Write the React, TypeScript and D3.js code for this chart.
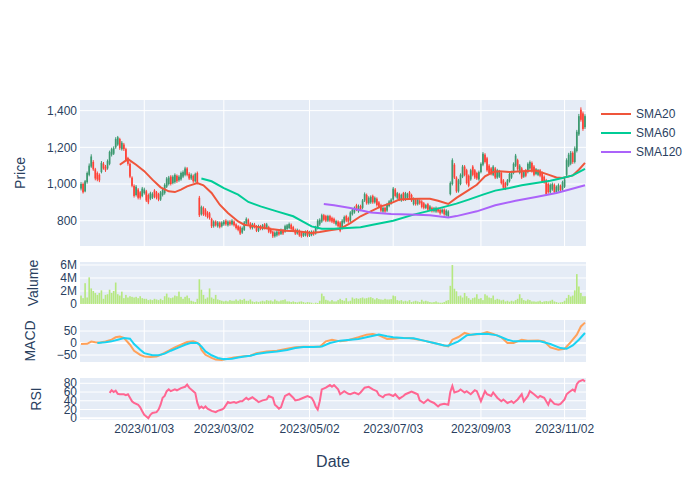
import React from "react";
import * as d3 from "d3";

// daily candles (KRW)
const opens = [
  975, 1000, 960, 1010, 1050, 1095, 1120, 1080, 1060, 1050,
  1065, 1110, 1095, 1085, 1110, 1160, 1165, 1200, 1215, 1245,
  1190, 1215, 1190, 1140, 1110, 1035, 990, 940, 970, 955,
  935, 950, 960, 940, 920, 925, 965, 955, 945, 915,
  940, 950, 985, 1000, 1040, 1005, 1010, 1045, 1020, 1025,
  1040, 1050, 1085, 1055, 1030, 1045, 1015, 1060, 925, 835,
  870, 860, 845, 840, 810, 770, 795, 770, 790, 770,
  780, 800, 775, 795, 780, 795, 780, 770, 765, 735,
  750, 785, 805, 785, 760, 780, 770, 745, 770, 755,
  780, 760, 765, 755, 740, 715, 720, 740, 728, 748,
  740, 755, 760, 778, 765, 750, 730, 745, 735, 718,
  720, 742, 718, 722, 740, 730, 760, 780, 795, 830,
  825, 800, 825, 815, 810, 780, 795, 790, 760, 790,
  825, 815, 800, 835, 845, 885, 850, 880, 870, 910,
  940, 895, 900, 935, 900, 920, 900, 885, 850, 870,
  855, 880, 895, 915, 970, 925, 945, 910, 950, 915,
  925, 955, 940, 890, 915, 890, 910, 905, 895, 870,
  890, 860, 870, 852, 850, 865, 860, 845, 860, 830,
  825, 945, 1000, 1105, 1035, 960, 1000, 1040, 1095, 1075,
  1045, 1025, 1095, 1075, 1060, 1025, 1065, 1105, 1160, 1140,
  1100, 1085, 1050, 1085, 1035, 1040, 1060, 1020, 1005, 995,
  1015, 1035, 1060, 1100, 1130, 1060, 1085, 1040, 1075, 1065,
  1085, 1115, 1095, 1055, 1050, 1075, 1060, 1040, 1020, 1000,
  955, 970, 995, 955, 965, 990, 970, 985, 1050, 1100,
  1110, 1170, 1120, 1180, 1270, 1405, 1385, 1310,
];
const highs = [
  1010, 1008, 1022, 1068, 1112, 1162, 1130, 1088, 1068, 1058,
  1125, 1120, 1104, 1134, 1182, 1198, 1205, 1255, 1262, 1252,
  1234, 1224, 1198, 1148, 1118, 1042, 998, 994, 978, 962,
  984, 980, 968, 948, 958, 955, 972, 962, 952, 962,
  978, 1004, 1038, 1044, 1048, 1048, 1058, 1052, 1048, 1068,
  1074, 1094, 1092, 1064, 1058, 1052, 1062, 1068, 935, 882,
  878, 868, 852, 848, 816, 802, 802, 798, 796, 797,
  804, 808, 802, 803, 808, 802, 786, 776, 772, 768,
  798, 818, 812, 792, 788, 788, 776, 778, 777, 782,
  787, 788, 772, 762, 746, 742, 748, 747, 757, 755,
  778, 782, 790, 785, 772, 757, 757, 752, 742, 742,
  747, 749, 745, 747, 747, 772, 808, 813, 838, 837,
  832, 832, 832, 822, 817, 805, 802, 797, 808, 828,
  832, 822, 852, 868, 878, 892, 888, 887, 918, 954,
  948, 933, 938, 942, 932, 927, 907, 892, 877, 877,
  897, 912, 922, 984, 978, 957, 952, 947, 957, 957,
  952, 962, 947, 927, 922, 922, 917, 912, 902, 892,
  897, 885, 877, 875, 877, 872, 867, 867, 867, 862,
  857, 1014, 1140, 1114, 1042, 1028, 1058, 1104, 1103, 1083,
  1052, 1083, 1103, 1082, 1067, 1073, 1118, 1174, 1168, 1148,
  1108, 1092, 1103, 1093, 1083, 1077, 1068, 1027, 1012, 1027,
  1063, 1072, 1118, 1164, 1138, 1108, 1093, 1072, 1082, 1118,
  1128, 1123, 1103, 1087, 1082, 1082, 1068, 1047, 1028, 1008,
  1003, 1008, 1003, 992, 1003, 997, 1018, 1033, 1140, 1170,
  1180, 1178, 1205, 1295, 1382, 1418, 1395, 1380,
];
const lows = [
  965, 948, 955, 1002, 1042, 1088, 1072, 1020, 1015, 1010,
  1058, 1078, 1066, 1078, 1102, 1150, 1158, 1192, 1208, 1186,
  1182, 1180, 1122, 1100, 1032, 982, 926, 932, 916, 915,
  928, 942, 902, 890, 912, 918, 922, 916, 906, 908,
  932, 942, 978, 992, 992, 998, 1002, 1006, 1012, 1018,
  1032, 1042, 1042, 1022, 1022, 1006, 1008, 998, 820, 828,
  826, 822, 812, 806, 760, 762, 768, 762, 758, 763,
  772, 772, 768, 772, 774, 768, 752, 742, 722, 728,
  744, 778, 772, 752, 752, 758, 738, 738, 748, 748,
  752, 754, 732, 728, 706, 708, 713, 718, 722, 722,
  734, 748, 754, 748, 738, 722, 724, 712, 707, 711,
  714, 710, 711, 715, 718, 724, 752, 772, 788, 797,
  792, 793, 792, 787, 782, 773, 762, 737, 752, 783,
  792, 788, 793, 828, 838, 852, 843, 852, 862, 902,
  887, 888, 892, 892, 893, 877, 867, 847, 843, 843,
  848, 873, 888, 908, 927, 918, 907, 903, 907, 908,
  918, 917, 902, 883, 882, 883, 887, 867, 862, 863,
  852, 853, 845, 845, 843, 843, 832, 838, 827, 823,
  818, 938, 992, 1027, 952, 953, 993, 1032, 1042, 997,
  982, 1018, 1042, 1027, 1022, 1018, 1058, 1097, 1112, 1067,
  1052, 1047, 1043, 1027, 1028, 1033, 997, 972, 967, 988,
  1008, 1028, 1053, 1093, 1072, 1053, 1027, 1033, 1037, 1058,
  1078, 1062, 1042, 1048, 1043, 1037, 1007, 1002, 937, 947,
  948, 963, 947, 948, 958, 957, 963, 978, 1042, 1092,
  1102, 1110, 1112, 1172, 1262, 1340, 1290, 1300,
];
const closes = [
  1000, 955, 1015, 1060, 1100, 1150, 1080, 1030, 1025, 1020,
  1115, 1085, 1075, 1125, 1175, 1190, 1195, 1245, 1255, 1195,
  1225, 1190, 1130, 1110, 1040, 990, 935, 985, 925, 925,
  975, 970, 910, 900, 950, 945, 930, 925, 915, 955,
  970, 995, 1030, 1035, 1000, 1040, 1050, 1015, 1040, 1060,
  1065, 1085, 1050, 1030, 1050, 1015, 1055, 1005, 830, 875,
  835, 830, 820, 815, 770, 795, 775, 790, 765, 790,
  795, 780, 795, 780, 800, 775, 760, 750, 730, 760,
  790, 810, 780, 760, 780, 765, 745, 770, 755, 775,
  760, 780, 740, 735, 715, 735, 740, 725, 750, 730,
  770, 775, 782, 755, 745, 730, 750, 720, 715, 735,
  740, 718, 738, 740, 725, 765, 800, 805, 830, 805,
  800, 825, 800, 795, 790, 798, 770, 745, 800, 820,
  800, 795, 845, 860, 870, 860, 880, 860, 910, 945,
  895, 925, 930, 900, 925, 885, 875, 855, 870, 850,
  890, 905, 915, 975, 935, 950, 915, 940, 915, 950,
  945, 925, 910, 920, 890, 915, 895, 875, 870, 885,
  860, 878, 852, 868, 870, 850, 840, 860, 835, 855,
  850, 1005, 1130, 1035, 960, 1020, 1050, 1095, 1050, 1005,
  990, 1075, 1050, 1035, 1030, 1065, 1110, 1165, 1120, 1075,
  1060, 1055, 1095, 1035, 1075, 1070, 1005, 980, 975, 1020,
  1055, 1065, 1110, 1155, 1080, 1100, 1035, 1065, 1045, 1110,
  1120, 1070, 1050, 1080, 1075, 1045, 1015, 1010, 945, 955,
  995, 1000, 955, 985, 995, 965, 1010, 1025, 1130, 1160,
  1170, 1120, 1195, 1285, 1370, 1350, 1300, 1370,
];
// volume in millions
const volumeM = [
  1.3, 0.9, 3.2, 1.0, 4.1, 2.4, 2.0, 1.7, 1.4, 1.7,
  2.1, 0.8, 1.4, 1.5, 2.2, 1.7, 2.0, 3.3, 1.5, 1.3,
  1.9, 0.9, 1.4, 1.0, 1.2, 1.1, 1.0, 1.1, 0.9, 1.2,
  0.9, 0.8, 0.8, 0.6, 0.7, 0.6, 0.8, 0.7, 0.6, 0.8,
  0.6, 1.2, 1.6, 1.0, 0.9, 1.0, 1.3, 1.2, 1.9, 1.1,
  0.8, 1.1, 1.3, 0.9, 0.5, 0.4, 0.3, 0.8, 3.8, 2.2,
  1.4, 0.8, 1.0, 2.4, 1.0, 0.8, 1.4, 0.7, 0.6, 0.5,
  0.4, 0.5, 0.4, 0.6, 0.5, 0.5, 0.7, 0.5, 0.7, 0.6,
  0.8, 0.5, 0.5, 0.7, 0.4, 0.3, 0.4, 0.3, 0.4, 0.5,
  0.4, 0.6, 0.5, 0.55, 0.4, 0.7, 0.5, 0.4, 0.55, 0.6,
  0.7, 0.4, 0.4, 0.3, 0.4, 0.3, 0.25, 0.35, 0.4, 0.3,
  0.2, 0.3, 0.25, 0.2, 0.1, 0.2, 0.15, 0.5, 1.6, 1.2,
  0.65, 0.55, 0.4, 0.6, 0.4, 0.4, 0.6, 0.8, 0.6, 0.5,
  0.9, 0.4, 0.5, 1.0, 0.8, 0.9, 0.8, 0.9, 1.0, 0.85,
  0.9, 1.0, 1.05, 0.9, 0.7, 0.9, 0.75, 0.7, 0.65, 0.8,
  0.7, 0.7, 0.75, 1.3, 1.2, 0.6, 0.5, 0.6, 0.4, 0.5,
  0.4, 0.6, 0.3, 0.4, 0.5, 0.4, 0.3, 0.65, 0.4, 0.5,
  0.4, 0.3, 0.25, 0.3, 0.4, 0.25, 0.2, 0.2, 0.3, 0.5,
  0.6, 2.8, 6.0, 2.35, 1.95, 1.2, 1.3, 1.0, 1.7, 1.2,
  0.9, 0.65, 0.9, 1.0, 1.5, 0.8, 0.9, 0.6, 1.5, 1.3,
  1.0, 0.9, 1.3, 0.65, 0.8, 0.7, 0.55, 0.65, 0.4, 0.5,
  0.35, 0.5, 0.4, 0.6, 0.8, 1.5, 0.9, 0.6, 0.5, 0.7,
  0.6, 0.4, 0.4, 0.35, 0.4, 0.5, 0.3, 0.4, 0.45, 0.4,
  0.5, 0.65, 0.4, 0.3, 0.2, 0.25, 0.3, 0.5, 0.9, 1.4,
  1.15, 1.3, 2.1, 4.6, 2.7, 1.7, 1.2, 1.2,
];

// [candle index, value]
const sma20 = [
  [19, 1105], [23, 1136], [27, 1105], [31, 1070], [35, 1024], [39, 982], [43, 960], [46, 956],
  [49, 969], [52, 987], [57, 1005], [60, 993], [64, 951], [68, 887], [72, 842], [77, 796],
  [80, 778], [85, 769], [93, 755], [100, 745], [106, 742], [113, 733], [117, 738], [122, 748],
  [127, 756], [132, 787], [137, 824], [142, 851], [147, 878], [152, 896], [156, 915], [161, 918],
  [166, 920], [171, 920], [175, 909], [180, 891], [184, 924], [189, 960], [194, 996], [198, 1042],
  [202, 1065], [205, 1069], [210, 1065], [216, 1069], [223, 1073], [229, 1051], [233, 1036],
  [236, 1033], [241, 1047], [244, 1078], [247, 1115],
];
const sma60 = [
  [59, 1030], [64, 1015], [70, 978], [77, 942], [82, 902], [88, 878], [96, 851], [104, 824],
  [109, 793], [113, 769], [118, 756], [124, 756], [137, 764], [143, 778], [153, 800], [163, 833],
  [171, 855], [179, 878], [184, 893], [190, 915], [197, 942], [203, 964], [210, 978], [216, 993],
  [223, 1005], [230, 1018], [236, 1033], [241, 1047], [247, 1082],
];
const sma120 = [
  [119, 891], [124, 884], [132, 869], [142, 845], [152, 836], [161, 834], [171, 830], [180, 818],
  [184, 825], [194, 851], [203, 884], [213, 909], [223, 929], [233, 951], [239, 969], [247, 993],
];
const macd = [
  [0, -4], [3, -3], [5, 6], [7, 3], [9, 1], [12, 7], [15, 14], [17, 24], [19, 27], [21, 22],
  [24, -7], [26, -32], [29, -49], [31, -56], [34, -58], [37, -56], [39, -49], [43, -32], [46, -18],
  [49, -7], [52, 4], [55, 7], [56, 5], [58, -4], [59, -28], [61, -49], [64, -62], [66, -69],
  [69, -71], [72, -65], [75, -60], [79, -56], [83, -53], [86, -42], [91, -35], [96, -32],
  [101, -24], [105, -18], [109, -15], [114, -15], [117, -15], [120, 7], [123, 14], [127, 7],
  [130, 10], [133, 17], [136, 24], [140, 35], [143, 38], [146, 32], [150, 17], [153, 18],
  [156, 21], [161, 21], [163, 18], [168, 10], [173, 0], [178, -10], [180, -14], [182, 14],
  [185, 25], [188, 42], [191, 35], [196, 38], [199, 46], [202, 38], [206, 24], [209, 0],
  [212, 0], [216, 14], [219, 10], [224, 11], [227, 7], [230, -18], [234, -28], [237, -24],
  [240, 4], [243, 35], [245, 69], [247, 85],
];
const signal = [
  [8, 0], [12, 3], [15, 7], [18, 14], [21, 21], [24, 18], [26, -4], [29, -28], [31, -42],
  [35, -51], [38, -51], [41, -44], [44, -32], [48, -18], [51, -7], [54, 1], [57, 0], [59, -14],
  [61, -35], [64, -51], [67, -62], [70, -67], [74, -65], [77, -60], [80, -56], [83, -53],
  [86, -46], [91, -39], [96, -35], [101, -29], [105, -21], [109, -17], [114, -17], [118, -14],
  [122, 0], [127, 10], [132, 14], [136, 17], [141, 26], [146, 35], [150, 28], [153, 24],
  [158, 21], [163, 20], [168, 10], [173, 0], [178, -10], [180, -11], [185, 7], [189, 32],
  [194, 38], [199, 39], [204, 32], [209, 14], [212, 7], [219, 7], [225, 7], [230, -4],
  [235, -21], [238, -24], [241, -10], [244, 14], [247, 42],
];
const rsi = [
  [14, 58], [15, 64], [16, 60], [17, 63], [18, 56], [19, 55], [21, 55], [22, 53], [23, 55],
  [24, 47], [25, 39], [26, 35], [28, 31], [29, 25], [30, 16], [31, 8], [32, 4], [33, 0],
  [34, 8], [35, 12], [37, 14], [38, 20], [39, 31], [40, 47], [41, 51], [42, 62], [43, 66],
  [44, 62], [46, 66], [47, 64], [49, 69], [51, 72], [52, 77], [53, 70], [55, 62], [56, 58],
  [57, 35], [58, 23], [59, 27], [60, 23], [61, 27], [62, 22], [64, 17], [66, 14], [67, 17],
  [69, 20], [70, 23], [72, 37], [73, 35], [75, 37], [76, 35], [78, 39], [79, 39], [81, 47],
  [82, 43], [84, 48], [86, 41], [87, 37], [89, 41], [91, 43], [92, 51], [94, 47], [95, 31],
  [96, 27], [97, 22], [98, 25], [99, 39], [100, 51], [102, 56], [104, 47], [105, 41], [107, 43],
  [109, 47], [111, 51], [113, 47], [114, 39], [115, 27], [116, 20], [117, 39], [118, 66],
  [120, 70], [122, 76], [123, 72], [124, 76], [126, 66], [127, 55], [129, 62], [131, 56],
  [132, 55], [134, 59], [136, 55], [137, 59], [139, 70], [141, 72], [143, 66], [145, 62],
  [146, 53], [148, 48], [149, 53], [151, 55], [153, 51], [154, 55], [156, 45], [158, 51],
  [159, 55], [161, 59], [162, 61], [163, 59], [165, 55], [166, 41], [168, 35], [170, 43],
  [171, 39], [173, 35], [175, 27], [176, 31], [178, 33], [180, 31], [181, 60], [182, 74],
  [183, 59], [185, 62], [186, 66], [188, 59], [189, 62], [191, 55], [193, 64], [194, 62],
  [196, 39], [198, 62], [199, 55], [201, 51], [202, 59], [204, 47], [206, 39], [207, 43],
  [209, 35], [211, 39], [212, 35], [214, 43], [216, 55], [217, 39], [219, 51], [220, 62],
  [222, 55], [224, 47], [225, 51], [227, 47], [229, 31], [230, 43], [232, 33], [234, 31],
  [235, 33], [237, 43], [238, 55], [239, 59], [241, 66], [242, 62], [243, 78], [244, 84],
  [246, 88], [247, 84],
];

const tickIdx = [31, 70, 112, 153, 196, 237];
const tickLabels = ["2023/01/03", "2023/03/02", "2023/05/02", "2023/07/03", "2023/09/03", "2023/11/02"];
const priceTicks = [800, 1000, 1200, 1400];
const volumeTicks = [0, 2, 4, 6];
const macdTicks = [-50, 0, 50];
const rsiTicks = [0, 20, 40, 60, 80];

const FONT = '"Liberation Sans", Arial, sans-serif';
const INK = "#2a3f5f";
const BG = "#E5ECF6";
const UP = "#3D9970";
const DOWN = "#FF4136";

const L = 80;
const R = 586;

type Pt = number[];

const App: React.FC = () => {
  const n = opens.length;
  const x = d3.scaleLinear().domain([-0.5, n - 0.5]).range([L, R]);
  const step = x(1) - x(0);

  const yPrice = d3.scaleLinear().domain([662, 1458]).range([246, 100]);
  const yVol = d3.scaleLinear().domain([0, 6.46]).range([304, 262]);
  const yMacd = d3.scaleLinear().domain([-79, 96]).range([362, 320]);
  const yRsi = d3.scaleLinear().domain([-3.9, 92.1]).range([420, 378]);

  const mk = (y: d3.ScaleLinear<number, number>) =>
    d3
      .line<Pt>()
      .x((d) => x(d[0]))
      .y((d) => y(d[1]));

  const panels = [
    { key: "price", y: yPrice, ticks: priceTicks, fmt: d3.format(","), vgrid: true, zero: false },
    { key: "vol", y: yVol, ticks: volumeTicks, fmt: (v: number) => (v === 0 ? "0" : `${v}M`), vgrid: false, zero: true },
    { key: "macd", y: yMacd, ticks: macdTicks, fmt: (v: number) => (v < 0 ? `\u2212${-v}` : `${v}`), vgrid: true, zero: true },
    { key: "rsi", y: yRsi, ticks: rsiTicks, fmt: (v: number) => `${v}`, vgrid: true, zero: true },
  ];

  const titles = [
    { text: "Price", x: 20, y: 173 },
    { text: "Valume", x: 33, y: 283 },
    { text: "MACD", x: 30, y: 341 },
    { text: "RSI", x: 36, y: 399 },
  ];

  const legend = [
    { name: "SMA20", color: "#EF553B" },
    { name: "SMA60", color: "#00CC96" },
    { name: "SMA120", color: "#AB63FA" },
  ];

  const bodyW = 1.7;
  const barW = step * 0.8;

  return (
    <svg
      width={700}
      height={500}
      style={{ position: "absolute", left: 0, top: 0, background: "#fff" }}
      fontFamily={FONT}
    >
      <defs>
        {panels.map((p) => (
          <clipPath id={`clip-${p.key}`} key={p.key}>
            <rect x={L} y={p.y.range()[1]} width={R - L} height={p.y.range()[0] - p.y.range()[1]} />
          </clipPath>
        ))}
      </defs>

      {/* panel backgrounds, grids and y ticks */}
      {panels.map((p) => {
        const [bottom, top] = p.y.range();
        return (
          <g key={p.key}>
            <rect x={L} y={top} width={R - L} height={bottom - top} fill={BG} />
            {p.vgrid &&
              tickIdx.map((t) => (
                <line key={t} x1={x(t)} x2={x(t)} y1={top} y2={bottom} stroke="#fff" strokeWidth={1} />
              ))}
            {p.ticks.map((t) => (
              <g key={t}>
                <line
                  x1={L}
                  x2={R}
                  y1={p.y(t)}
                  y2={p.y(t)}
                  stroke="#fff"
                  strokeWidth={p.zero && t === 0 ? 2 : 1}
                />
                <text x={77} y={p.y(t)} dy="0.35em" textAnchor="end" fontSize={12} fill={INK}>
                  {p.fmt(t)}
                </text>
              </g>
            ))}
          </g>
        );
      })}

      {/* candles */}
      <g clipPath="url(#clip-price)">
        {opens.map((o, i) => {
          const c = closes[i];
          const col = c >= o ? UP : DOWN;
          const yTop = yPrice(Math.max(o, c));
          const h = Math.max(1.5, yPrice(Math.min(o, c)) - yTop);
          return (
            <g key={i}>
              <line x1={x(i)} x2={x(i)} y1={yPrice(highs[i])} y2={yPrice(lows[i])} stroke={col} strokeWidth={1} />
              <rect x={x(i) - bodyW / 2} y={yTop} width={bodyW} height={h} fill={col} />
            </g>
          );
        })}
        {[sma20, sma60, sma120].map((s, k) => (
          <path key={k} d={mk(yPrice)(s) || ""} fill="none" stroke={legend[k].color} strokeWidth={2} />
        ))}
      </g>

      {/* volume */}
      <g clipPath="url(#clip-vol)">
        {volumeM.map((v, i) => (
          <rect key={i} x={x(i) - barW / 2} y={yVol(v)} width={barW} height={yVol(0) - yVol(v)} fill="#B6E880" />
        ))}
      </g>

      {/* MACD */}
      <g clipPath="url(#clip-macd)">
        <path d={mk(yMacd)(macd) || ""} fill="none" stroke="#FFA15A" strokeWidth={2} />
        <path d={mk(yMacd)(signal) || ""} fill="none" stroke="#19D3F3" strokeWidth={2} />
      </g>

      {/* RSI */}
      <g clipPath="url(#clip-rsi)">
        <path d={mk(yRsi)(rsi) || ""} fill="none" stroke="#FF6692" strokeWidth={2} />
      </g>

      {/* x tick labels */}
      {tickIdx.map((t, k) => (
        <text key={t} x={x(t)} y={429} dy="0.35em" textAnchor="middle" fontSize={12} fill={INK}>
          {tickLabels[k]}
        </text>
      ))}
      <text x={(L + R) / 2} y={461} dy="0.35em" textAnchor="middle" fontSize={16} fill={INK}>
        Date
      </text>

      {titles.map((t) => (
        <text
          key={t.text}
          transform={`translate(${t.x},${t.y}) rotate(-90)`}
          dy="0.35em"
          textAnchor="middle"
          fontSize={14}
          fill={INK}
        >
          {t.text}
        </text>
      ))}

      {/* legend */}
      {legend.map((l, k) => (
        <g key={l.name} transform={`translate(600,${114 + k * 19})`}>
          <line x1={1} x2={31} y1={0} y2={0} stroke={l.color} strokeWidth={2} />
          <text x={36} y={0} dy="0.35em" fontSize={12} fill={INK}>
            {l.name}
          </text>
        </g>
      ))}
    </svg>
  );
};

export default App;
